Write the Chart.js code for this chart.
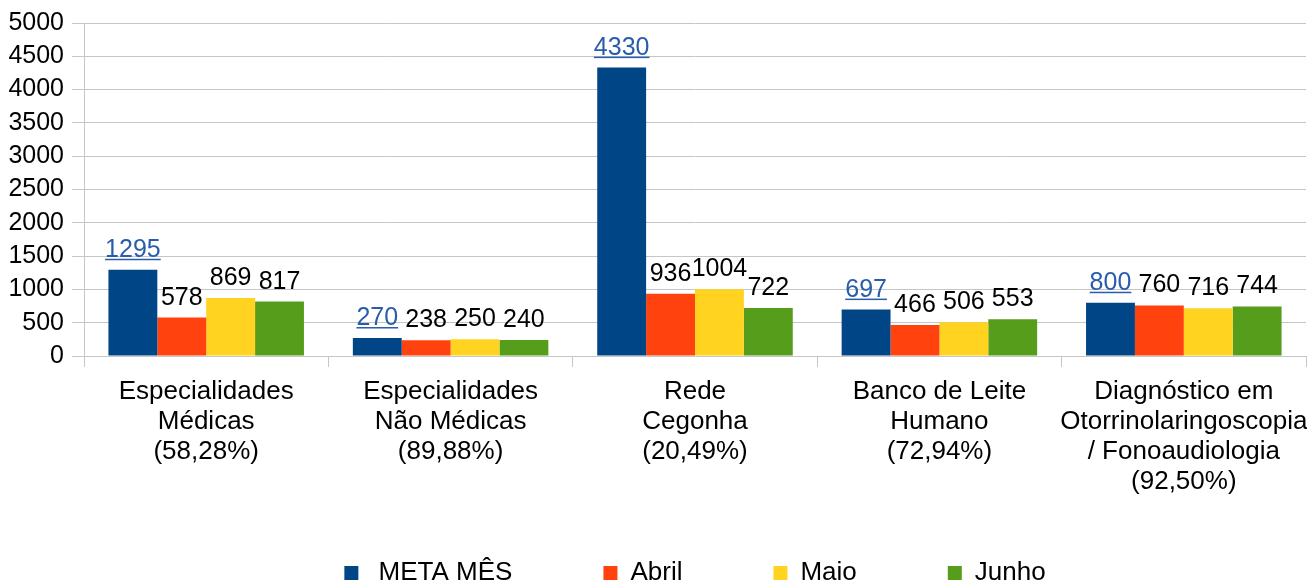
<!DOCTYPE html>
<html>
<head>
<meta charset="utf-8">
<script src="https://cdn.jsdelivr.net/npm/chart.js@4/dist/chart.umd.min.js"></script>
<style>
  html, body { margin: 0; padding: 0; background: #fff; overflow: hidden; }
  #wrap { position: relative; width: 1307px; height: 596px; }
</style>
</head>
<body>
<div id="wrap"><canvas id="chart"></canvas></div>
<script>
const categories = [
  ['Especialidades', 'Médicas', '(58,28%)'],
  ['Especialidades', 'Não Médicas', '(89,88%)'],
  ['Rede', 'Cegonha', '(20,49%)'],
  ['Banco de Leite', 'Humano', '(72,94%)'],
  ['Diagnóstico em', 'Otorrinolaringoscopia', '/ Fonoaudiologia', '(92,50%)'],
];
const seriesNames = [' META MÊS', 'Abril', 'Maio', 'Junho'];
const metaMes = [1295, 270, 4330, 697, 800];
const abril = [578, 238, 936, 466, 760];
const maio = [869, 250, 1004, 506, 716];
const junho = [817, 240, 722, 553, 744];
const yMax = 5000;
const yStep = 500;

const colors = ['#004586', '#ff420e', '#ffd320', '#579d1c'];
const FONT = "'Liberation Sans', Arial, sans-serif";
const GRID = '#c6c6c6';

// value labels above each bar; the target series is drawn as an underlined link
const barLabels = {
  id: 'barLabels',
  afterDatasetsDraw(chart) {
    const ctx = chart.ctx;
    ctx.save();
    ctx.font = '25px ' + FONT;
    ctx.textAlign = 'center';
    ctx.textBaseline = 'alphabetic';
    chart.data.datasets.forEach((ds, i) => {
      const meta = chart.getDatasetMeta(i);
      meta.data.forEach((bar, j) => {
        const txt = String(ds.data[j]);
        const y = bar.y - 13;
        if (i === 0) {
          ctx.fillStyle = '#2a5cac';
          ctx.fillText(txt, bar.x, y);
          const w = ctx.measureText(txt).width;
          ctx.fillRect(bar.x - w / 2, y + 2, w, 1.5);
        } else {
          ctx.fillStyle = '#000';
          ctx.fillText(txt, bar.x, y);
        }
      });
    });
    ctx.restore();
  }
};

// the legend's wide item spacing also pads it on top, so the x axis is kept
// short for layout and its label clip is stretched back down afterwards
const stretchX = {
  id: 'stretchX',
  afterLayout(chart) {
    chart.scales.x.bottom = chart.height;
  }
};

const series = [metaMes, abril, maio, junho];

new Chart(document.getElementById('chart'), {
  type: 'bar',
  data: {
    labels: categories,
    datasets: series.map((data, i) => ({
      label: seriesNames[i],
      data,
      backgroundColor: colors[i],
      borderWidth: 0,
      categoryPercentage: 0.8,
      barPercentage: 1.0,
    }))
  },
  options: {
    responsive: true,
    maintainAspectRatio: false,
    animation: false,
    layout: { padding: { top: 17, right: 1, left: 0, bottom: 0 } },
    plugins: {
      tooltip: { enabled: false },
      legend: {
        position: 'bottom',
        fullSize: false,
        labels: {
          boxWidth: 14,
          boxHeight: 14,
          padding: 91,
          color: '#000',
          font: { family: FONT, size: 26 },
        }
      }
    },
    scales: {
      x: {
        afterFit: s => {
          s.height = 113;
          s.paddingLeft = 0;
          s.paddingRight = 0;
        },
        grid: {
          offset: true,
          drawOnChartArea: true,
          color: c => (c.index === categories.length ? GRID : 'rgba(0,0,0,0)'),
          tickColor: GRID,
          tickLength: 11,
        },
        border: { display: false },
        ticks: {
          autoSkip: false,
          maxRotation: 0,
          padding: 10,
          color: '#000',
          font: { family: FONT, size: 26, lineHeight: 1.154 },
        }
      },
      y: {
        min: 0,
        max: yMax,
        afterFit: s => { s.width = 84; },
        grid: { color: GRID, tickColor: GRID, tickLength: 12 },
        border: { color: GRID },
        ticks: {
          stepSize: yStep,
          padding: 8,
          color: '#000',
          font: { family: FONT, size: 25 },
          callback: v => String(v),
        }
      }
    }
  },
  plugins: [barLabels, stretchX]
});
</script>
</body>
</html>
